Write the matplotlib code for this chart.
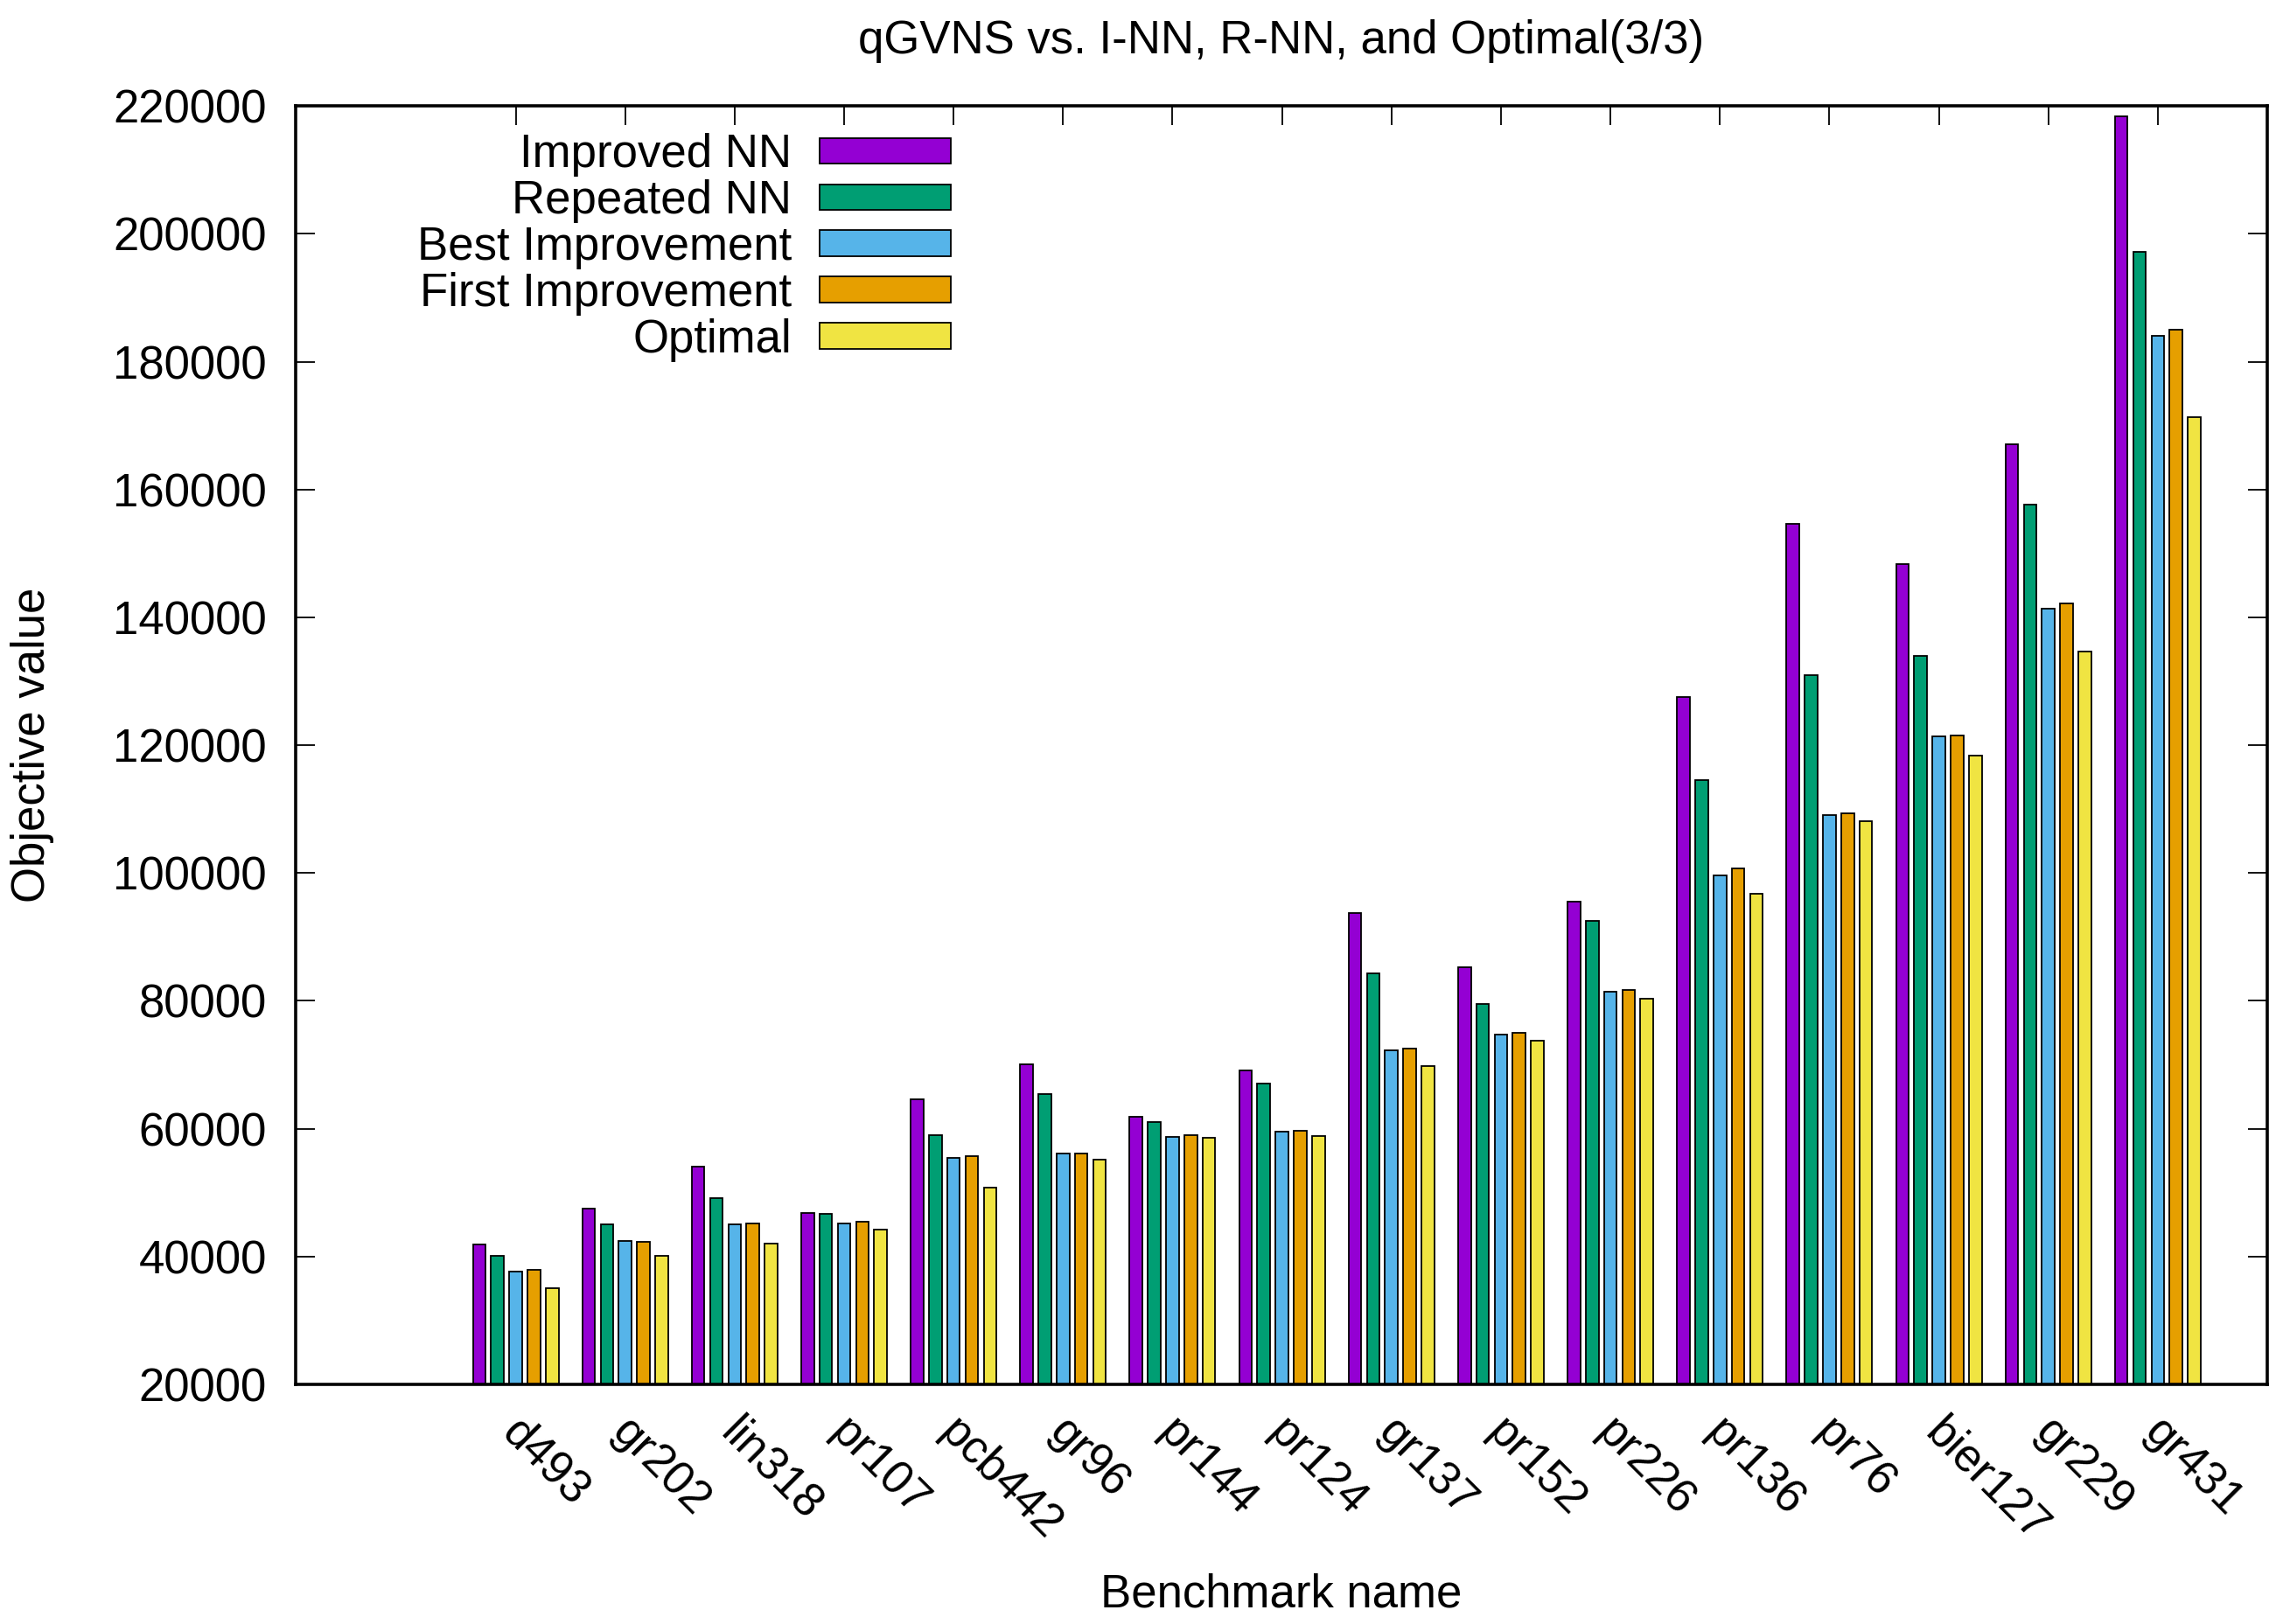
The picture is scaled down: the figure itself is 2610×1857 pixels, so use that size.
import numpy as np
import matplotlib
matplotlib.use('Agg')
import matplotlib.pyplot as plt
import matplotlib.transforms as mtransforms

# benchmark names and objective values
benchmarks = ['d493', 'gr202', 'lin318', 'pr107', 'pcb442', 'gr96', 'pr144', 'pr124',
              'gr137', 'pr152', 'pr226', 'pr136', 'pr76', 'bier127', 'gr229', 'gr431']

improved_nn = [41900, 47500, 54050, 46750, 64600, 70000, 61900, 69150,
               93700, 85300, 95500, 127550, 154650, 148300, 167050, 218350]
repeated_nn = [40150, 45050, 49200, 46700, 59000, 65400, 61000, 67050,
               84250, 79500, 92450, 114500, 130950, 133950, 157700, 197250]
best_impr = [37700, 42450, 45000, 45200, 55400, 56100, 58750, 59600,
             72300, 74700, 81400, 99600, 109050, 121350, 141400, 184100]
first_impr = [37900, 42300, 45150, 45450, 55750, 56150, 59000, 59650,
              72550, 74950, 81750, 100650, 109400, 121500, 142150, 184950]
optimal = [35000, 40150, 42050, 44250, 50750, 55200, 58550, 58900,
           69800, 73700, 80350, 96750, 108150, 118350, 134600, 171350]

series_names = ['Improved NN', 'Repeated NN', 'Best Improvement', 'First Improvement', 'Optimal']
series_colors = ['#9400d3', '#009e73', '#56b4e9', '#e69f00', '#f0e442']
yticks = list(range(20000, 220001, 20000))

plt.rcParams['font.family'] = ['Liberation Sans', 'DejaVu Sans']
fs = 38

fig = plt.figure(figsize=(26.1, 18.57), dpi=100)
ax = fig.add_axes([0.1295, 0.1476, 0.8636, 0.7871])

series = [improved_nn, repeated_nn, best_impr, first_impr, optimal]
x = np.arange(len(benchmarks))
slot = 1.0 / 6  # 5 bars + 1 gap per cluster
handles = []
for j, vals in enumerate(series):
    b = ax.bar(x + (j - 2) * slot, np.array(vals) - 20000, bottom=20000, width=0.7 * slot,
               color=series_colors[j], edgecolor='black', linewidth=1.3,
               label=series_names[j])
    handles.append(b)

ax.set_xlim(-2.01, 16.0)
ax.set_ylim(20000, 220000)
ax.set_yticks(yticks)
ax.set_yticklabels([str(t) for t in yticks], fontsize=fs)
ax.set_xticks(x)
ax.set_xticklabels([])
# rotated category labels, gnuplot style (start just right of the tick)
lab_trans = ax.get_xaxis_transform() + mtransforms.ScaledTranslation(0.1, -0.30, fig.dpi_scale_trans)
for i, name in enumerate(benchmarks):
    ax.text(x[i], 0, name, transform=lab_trans, fontsize=fs, rotation=-45,
            ha='left', va='top', rotation_mode='anchor')
ax.set_axisbelow(True)

ax.tick_params(axis='both', direction='in', length=15.8, width=1.3,
               top=True, right=True)
ax.tick_params(axis='y', pad=24)
for sp in ax.spines.values():
    sp.set_linewidth(2.6)

leg = ax.legend(handles=handles, loc='upper right', bbox_to_anchor=(0.3323, 0.9788),
                frameon=False, fontsize=fs, markerfirst=False, borderpad=0,
                handlelength=2.85, handleheight=0.49, handletextpad=0.6,
                labelspacing=0.055, borderaxespad=0)
for t in leg.get_texts():
    t.set_ha('right')

fig.text(0.5613, 1 - 47 / 1857, 'qGVNS vs. I-NN, R-NN, and Optimal(3/3)',
         fontsize=fs, ha='center', va='center')
fig.text(0.0142, 1 - 852 / 1857, 'Objective value', fontsize=fs,
         rotation=90, ha='center', va='center')
fig.text(0.5613, 1 - 1823 / 1857, 'Benchmark name', fontsize=fs,
         ha='center', va='center')

fig.savefig('out.png', dpi=100)
